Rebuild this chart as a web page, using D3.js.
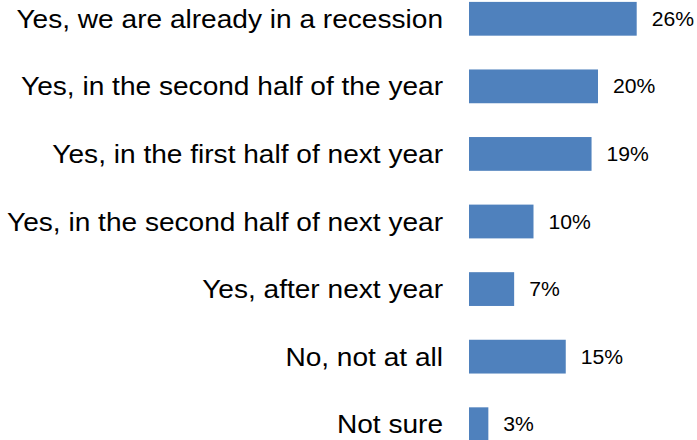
<!DOCTYPE html>
<html>
<head>
<meta charset="utf-8">
<script src="https://cdn.jsdelivr.net/npm/d3@7"></script>
<style>
  html, body { margin: 0; padding: 0; background: #fff; }
  svg { display: block; }
  text { font-family: "Liberation Sans", Arial, sans-serif; fill: #000; }
</style>
</head>
<body>
<svg id="chart" width="697" height="440"></svg>
<script>
// Survey answers and their shares (percent)
const answers = [
  "Yes, we are already in a recession",
  "Yes, in the second half of the year",
  "Yes, in the first half of next year",
  "Yes, in the second half of next year",
  "Yes, after next year",
  "No, not at all",
  "Not sure"
];
const shares = [26, 20, 19, 10, 7, 15, 3];

const rows = answers.map((a, i) => ({ answer: a, share: shares[i] }));

const svg = d3.select("#chart");
const barLeft = 469;
const labelRight = 443;

const x = d3.scaleLinear().domain([0, 26]).range([barLeft, barLeft + 26 * 6.45]);
const y = d3.scaleBand()
  .domain(answers)
  .range([-15, 458])
  .paddingInner(0.5)
  .paddingOuter(0.25);

// bars
svg.append("g").selectAll("rect")
  .data(rows)
  .join("rect")
  .attr("x", x(0))
  .attr("y", d => y(d.answer))
  .attr("width", d => x(d.share) - x(0))
  .attr("height", y.bandwidth())
  .attr("fill", "#4F81BD");

// category labels (slightly widened glyphs)
const catSize = 25.3, catStretch = 1.11;
svg.append("g").selectAll("text")
  .data(rows)
  .join("text")
  .attr("text-anchor", "end")
  .attr("font-size", catSize)
  .attr("transform", d => `translate(${labelRight},${y(d.answer) + y.bandwidth() / 2 + catSize * 0.36}) scale(${catStretch},1)`)
  .text(d => d.answer);

// value labels
const valSize = 19.5, valStretch = 1.085;
svg.append("g").selectAll("text")
  .data(rows)
  .join("text")
  .attr("text-anchor", "start")
  .attr("font-size", valSize)
  .attr("transform", d => `translate(${x(d.share) + 15},${y(d.answer) + y.bandwidth() / 2 + valSize * 0.36}) scale(${valStretch},1)`)
  .text(d => d.share + "%");
</script>
</body>
</html>
